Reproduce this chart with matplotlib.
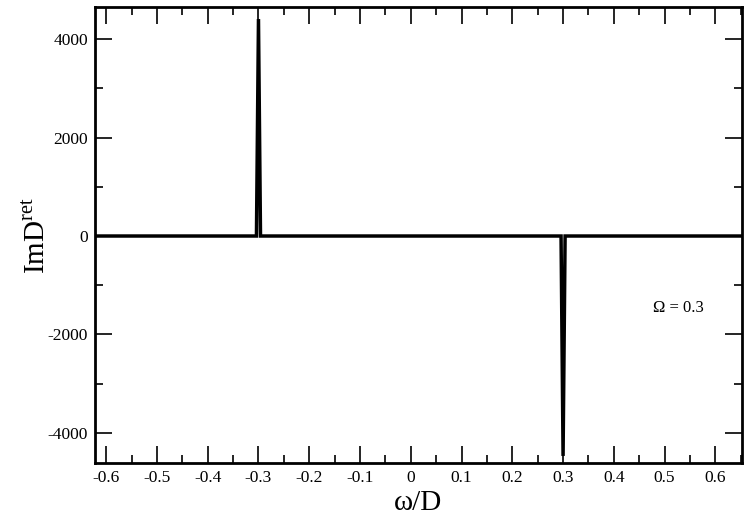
import numpy as np
import matplotlib.pyplot as plt
from matplotlib.ticker import MultipleLocator

plt.rcParams['font.family'] = ['Liberation Serif', 'DejaVu Serif']
plt.rcParams['mathtext.fontset'] = 'custom'
plt.rcParams['mathtext.rm'] = 'Liberation Serif'
plt.rcParams['axes.unicode_minus'] = False

# sampled points of Im D^ret (omega/D, value)
omega = [-0.62, -0.304, -0.3, -0.296, 0.296, 0.3, 0.304, 0.66]
im_d = [0, 0, 4410, 0, 0, -4470, 0, 0]
big_omega = 0.3

fig = plt.figure(figsize=(7.44, 5.19), dpi=100)
ax = fig.add_axes([0.1277, 0.1073, 0.997 - 0.1277, 0.987 - 0.1073])

ax.plot(omega, im_d, color='black', lw=2.5, solid_joinstyle='miter')

ax.set_xlim(-0.622, 0.652)
ax.set_ylim(-4620, 4660)
ax.xaxis.set_major_locator(MultipleLocator(0.1))
ax.xaxis.set_minor_locator(MultipleLocator(0.05))
ax.yaxis.set_major_locator(MultipleLocator(2000))
ax.yaxis.set_minor_locator(MultipleLocator(1000))
ax.xaxis.set_major_formatter(plt.FuncFormatter(lambda v, p: '0' if abs(v) < 1e-9 else f'{v:.1f}'))
ax.tick_params(which='both', direction='in', top=True, right=True, labelsize=12.5, width=1.2)
ax.tick_params(which='major', length=12, pad=5)
ax.tick_params(which='minor', length=6)
for s in ax.spines.values():
    s.set_linewidth(2)

ax.set_xlabel('ω/D', fontsize=21, labelpad=3)
ax.set_ylabel(r'ImD$^{\mathrm{ret}}$', fontsize=21, labelpad=-2)
ax.text(0.477, -1460, 'Ω = %.1f' % big_omega, fontsize=12, va='center')

fig.savefig('out.png', dpi=100)
